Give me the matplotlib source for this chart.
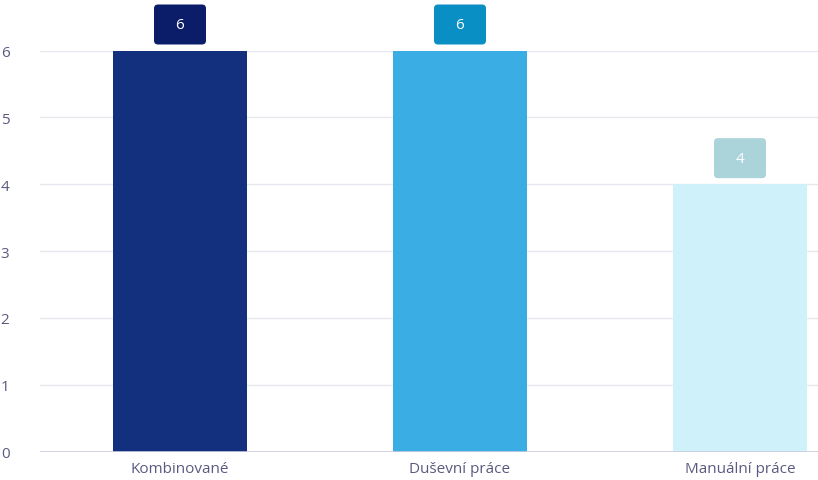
import matplotlib
matplotlib.use("Agg")
import matplotlib.pyplot as plt
from matplotlib.patches import FancyBboxPatch
from matplotlib.transforms import Affine2D, ScaledTranslation

# data
categories = ["Kombinované", "Duševní práce", "Manuální práce"]
values = [6, 6, 4]
bar_colors = ["#12307e", "#3aade5", "#cff1f9"]
label_colors = ["#0b1d69", "#0a8fc4", "#aad3da"]
y_ticks = [0, 1, 2, 3, 4, 5, 6]

plt.rcParams["font.family"] = ["Open Sans", "DejaVu Sans"]
text_color = "#5a5a80"

fig = plt.figure(figsize=(8.18, 4.81), dpi=100)
# axes right edge runs past the figure so gridlines reach the border
ax = fig.add_axes([40 / 818, 1 - 452.5 / 481, 840 / 818, (452 - 51) / 481])

x = list(range(len(categories)))
ax.bar(x, values, width=0.48, color=bar_colors, zorder=3)

ax.set_xlim(-0.5, 2.5)
ax.set_ylim(0, 6)
ax.set_yticks(y_ticks)
ax.set_xticks(x)
ax.set_xticklabels(categories)
ax.tick_params(axis="both", length=0, colors=text_color, labelsize=11)
ax.tick_params(axis="y", pad=22)
ax.tick_params(axis="x", pad=7)
ax.grid(axis="y", color="#e6e6ee", linewidth=1, zorder=0)
ax.axhline(0, color="#ccccdf", linewidth=1.2, zorder=4)
for s in ax.spines.values():
    s.set_visible(False)

# value labels in rounded boxes above bars (pixel sized)
for xi, v, c in zip(x, values, label_colors):
    trans = Affine2D() + ScaledTranslation(xi, v, ax.transData)
    box = FancyBboxPatch((-26, 6), 52, 40,
                         boxstyle="round,pad=0,rounding_size=4",
                         facecolor=c, edgecolor="none",
                         transform=trans, clip_on=False, zorder=5)
    ax.add_patch(box)
    ax.annotate(str(v), (xi, v), xytext=(0, 26 * 0.72), textcoords="offset points",
                ha="center", va="center", color="white", fontsize=11, zorder=6,
                annotation_clip=False)

fig.savefig("out.png", dpi=100)
